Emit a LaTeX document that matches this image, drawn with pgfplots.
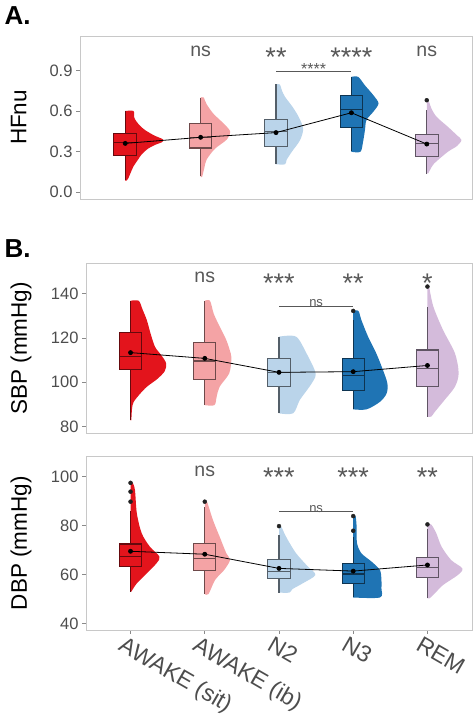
\documentclass[border=0pt]{standalone}
\usepackage{fontspec}
\setmainfont{Liberation Sans}
\usepackage{pgfplots}
\pgfplotsset{compat=1.18}
\definecolor{cA}{HTML}{E3141C}
\definecolor{cB}{HTML}{F4A3A5}
\definecolor{cC}{HTML}{BAD4EA}
\definecolor{cD}{HTML}{1F74B4}
\definecolor{cE}{HTML}{D4BBDB}
\definecolor{gframe}{HTML}{C8C8C8}
\definecolor{gtick}{HTML}{8A8A8A}
\definecolor{tickgray}{HTML}{4D4D4D}
\definecolor{siggray}{HTML}{585858}
\definecolor{ptgray}{HTML}{222222}
\pgfplotsset{
  rain/.style={scale only axis, xmin=0.4, xmax=5.6, clip=false,
    axis line style={draw=gframe, line width=0.9pt},
    tick style={draw=gtick, line width=0.8pt},
    major tick length=4pt, tick align=outside,
    ytick pos=left, xtick pos=left,
    /pgf/number format/assume math mode=true,
    yticklabel style={font=\fontsize{16.5}{17}\selectfont, text=tickgray},
    ylabel style={font=\fontsize{22.5}{24}\selectfont, anchor=center},
  },
  vio/.style={draw=none, fill=#1, smooth, tension=0.5},
  bx/.style={draw=#1!45!black, fill=#1, line width=1.1pt},
  bxw/.style={draw=#1!45!black, line width=1.1pt},
  meanline/.style={black, line width=0.8pt, mark=*, mark size=2pt, mark options={fill=black}},
  outl/.style={only marks, mark=*, mark size=2pt, color=ptgray},
}
\tikzset{
  sig/.style={text=siggray, anchor=base, font=\fontsize{19.5}{20}\selectfont},
  sigst/.style={text=siggray, anchor=base, font=\fontsize{27}{28}\selectfont, yshift=-10pt},
  sigs/.style={text=siggray, anchor=base, font=\fontsize{13}{14}\selectfont},
  sigss/.style={text=siggray, anchor=base, font=\fontsize{16}{17}\selectfont},
}
% #1 colour, #2 left, #3 centre, #4 right, #5 lower whisker, #6 lower quartile, #7 median, #8 upper quartile, #9 upper whisker
\newcommand{\bxp}[9]{%
\addplot[bxw=#1] coordinates {(#3,#5) (#3,#6)};
\addplot[bxw=#1] coordinates {(#3,#8) (#3,#9)};
\addplot[bx=#1] coordinates {(#2,#6) (#4,#6) (#4,#8) (#2,#8)} -- cycle;
\addplot[bxw=#1] coordinates {(#2,#7) (#4,#7)};
}
\begin{document}
\begin{tikzpicture}
\path[use as bounding box] (0,0) rectangle (475pt,719pt);
\node[anchor=base west, font=\fontsize{26}{28}\selectfont\bfseries] at (1pt,694pt) {A.};
\node[anchor=base west, font=\fontsize{26}{28}\selectfont\bfseries] at (1pt,461.3pt) {B.};
% ---------------- Panel A
\begin{axis}[rain, at={(80pt,520pt)}, anchor=south west, width=392pt, height=163pt,
  ymin=-0.052, ymax=1.156, ytick={0,0.3,0.6,0.9}, yticklabels={0.0,0.3,0.6,0.9},
  xtick=\empty, ylabel={HFnu}, ylabel style={at={(axis description cs:-0.156,0.5)}}]
\addplot[vio=cA] coordinates {(1,0.60) (1.11,0.60) (1.12,0.55) (1.18,0.50) (1.26,0.46) (1.38,0.42) (1.50,0.39) (1.49,0.37) (1.40,0.35) (1.30,0.32) (1.22,0.28) (1.17,0.24) (1.11,0.19) (1.07,0.14) (1.04,0.10) (1.02,0.085) (1,0.085)} -- cycle;
\addplot[vio=cB] coordinates {(2,0.70) (2.04,0.70) (2.08,0.65) (2.17,0.58) (2.30,0.51) (2.39,0.45) (2.35,0.39) (2.19,0.32) (2.08,0.24) (2.05,0.18) (2.02,0.113) (2,0.113)} -- cycle;
\addplot[vio=cC] coordinates {(3,0.797) (3.05,0.797) (3.08,0.75) (3.12,0.705) (3.22,0.63) (3.30,0.557) (3.36,0.47) (3.32,0.385) (3.21,0.298) (3.14,0.237) (3.12,0.205) (3,0.205)} -- cycle;
\addplot[vio=cD] coordinates {(4,0.853) (4.09,0.853) (4.18,0.79) (4.29,0.718) (4.36,0.656) (4.29,0.594) (4.20,0.533) (4.18,0.459) (4.155,0.372) (4.12,0.298) (4,0.298)} -- cycle;
\addplot[vio=cE] coordinates {(5,0.668) (5.03,0.668) (5.06,0.62) (5.13,0.557) (5.28,0.483) (5.40,0.42) (5.46,0.385) (5.40,0.34) (5.28,0.298) (5.10,0.212) (5.04,0.16) (5.02,0.138) (5,0.138)} -- cycle;
\bxp{cA}{0.85}{1}{1.15}{0.09}{0.272}{0.365}{0.434}{0.60}
\bxp{cB}{1.85}{2}{2.15}{0.12}{0.326}{0.405}{0.508}{0.70}
\bxp{cC}{2.85}{3}{3.15}{0.205}{0.340}{0.446}{0.538}{0.797}
\bxp{cD}{3.85}{4}{4.15}{0.30}{0.479}{0.612}{0.718}{0.85}
\bxp{cE}{4.85}{5}{5.15}{0.133}{0.266}{0.36}{0.424}{0.61}
\addplot[outl] coordinates {(5,0.68)};
\addplot[meanline] coordinates {(1,0.36) (2,0.405) (3,0.44) (4,0.587) (5,0.355)};
\addplot[siggray, line width=0.8pt] coordinates {(3,0.895) (4,0.895)};
\node[sigss] at (axis cs:3.5,0.869) {****};
\node[sig] at (axis cs:2,1.006) {ns};
\node[sigst] at (axis cs:3,1.006) {**};
\node[sigst] at (axis cs:4,1.006) {****};
\node[sig] at (axis cs:5,1.006) {ns};
\end{axis}
% ---------------- Panel B
\begin{axis}[rain, at={(86pt,285.7pt)}, anchor=south west, width=386pt, height=170pt,
  ymin=77, ymax=153.7, ytick={80,100,120,140}, yticklabels={80,100,120,140},
  xtick=\empty, ylabel={SBP (mmHg)}, ylabel style={at={(axis description cs:-0.168,0.5)}}]
\addplot[vio=cA] coordinates {(1,136.8) (1.11,136.8) (1.16,133) (1.22,128) (1.27,122) (1.33,116) (1.42,112) (1.48,108.5) (1.46,105) (1.36,101.5) (1.22,98) (1.12,94.5) (1.04,91) (1.02,88) (1.01,83) (1,83)} -- cycle;
\addplot[vio=cB] coordinates {(2,136.8) (2.07,136.8) (2.12,131) (2.18,126.6) (2.29,119.1) (2.35,113) (2.36,111) (2.33,104.1) (2.20,98) (2.16,93.5) (2.13,89.7) (2,89.7)} -- cycle;
\addplot[vio=cC] coordinates {(3,120.6) (3.23,120.6) (3.37,113.1) (3.48,105.6) (3.49,102.5) (3.41,98) (3.28,92) (3.19,86) (3,86)} -- cycle;
\addplot[vio=cD] coordinates {(4,132.2) (4.07,132.2) (4.11,128.1) (4.20,120.6) (4.31,113.1) (4.40,105.6) (4.46,99.5) (4.45,95) (4.36,91.2) (4.18,87.8) (4,87.8)} -- cycle;
\addplot[vio=cE] coordinates {(5,143.2) (5.02,143.2) (5.08,134.1) (5.21,123.6) (5.37,113.1) (5.42,104.1) (5.37,98) (5.23,92) (5.10,86.7) (5.05,84.5) (5,84.5)} -- cycle;
\bxp{cA}{0.85}{1}{1.15}{83}{105.9}{111.6}{122.4}{136.8}
\bxp{cB}{1.85}{2}{2.15}{89.7}{101.3}{109.6}{117.9}{136.8}
\bxp{cC}{2.85}{3}{3.15}{86}{98}{104.5}{110.8}{120.6}
\bxp{cD}{3.85}{4}{4.15}{87.8}{96.5}{102.9}{110.8}{128}
\bxp{cE}{4.85}{5}{5.15}{84.5}{98}{106.1}{114.6}{134.1}
\addplot[outl] coordinates {(4,132.2) (5,143.2)};
\addplot[meanline] coordinates {(1,113.4) (2,110.8) (3,104.5) (4,104.8) (5,107.6)};
\addplot[siggray, line width=0.8pt] coordinates {(3,134.4) (4,134.4)};
\node[sigs] at (axis cs:3.5,134.0) {ns};
\node[sig] at (axis cs:2,145.1) {ns};
\node[sigst] at (axis cs:3,145.1) {***};
\node[sigst] at (axis cs:4,145.1) {**};
\node[sigst] at (axis cs:5,145.1) {*};
\end{axis}
% ---------------- Panel C
\begin{axis}[rain, at={(86pt,89pt)}, anchor=south west, width=386pt, height=173.3pt,
  ymin=37.3, ymax=108.2, ytick={40,60,80,100}, yticklabels={40,60,80,100},
  xtick={1,2,3,4,5}, xticklabels={AWAKE (sit),AWAKE (ib),N2,N3,REM},
  xticklabel style={rotate=-30, anchor=north west, xshift=-7pt, font=\fontsize{23}{24}\selectfont, text=tickgray},
  ylabel={DBP (mmHg)}, ylabel style={at={(axis description cs:-0.168,0.5)}}]
\addplot[vio=cA] coordinates {(1,97.5) (1.03,97.5) (1.06,94.4) (1.085,85) (1.15,76.9) (1.26,71.4) (1.39,67.3) (1.35,64.6) (1.22,60.5) (1.085,56.4) (1.01,53) (1,53)} -- cycle;
\addplot[vio=cB] coordinates {(2,89.8) (2.03,89.8) (2.11,82.3) (2.20,75.5) (2.29,68.7) (2.34,65.9) (2.26,61.8) (2.14,57.8) (2.05,52) (2,52)} -- cycle;
\addplot[vio=cC] coordinates {(3,79.6) (3.03,79.6) (3.07,77) (3.12,74.1) (3.23,68.7) (3.39,63.2) (3.49,59.8) (3.32,56.4) (3.18,54) (3.14,52.6) (3,52.6)} -- cycle;
\addplot[vio=cD] coordinates {(4,84) (4.03,84) (4.045,80) (4.05,73) (4.11,68.7) (4.25,65.2) (4.36,61.8) (4.38,57.8) (4.38,54.4) (4.36,50.6) (4,50.6)} -- cycle;
\addplot[vio=cE] coordinates {(5,80.5) (5.05,80.5) (5.12,76.8) (5.19,71.4) (5.32,65.9) (5.47,62.5) (5.41,59.8) (5.21,55.7) (5.10,52.3) (5.03,50.3) (5,50.3)} -- cycle;
\bxp{cA}{0.85}{1}{1.15}{53}{63.2}{67.3}{72.5}{86}
\bxp{cB}{1.85}{2}{2.15}{52}{61.8}{66.6}{72.8}{87.7}
\bxp{cC}{2.85}{3}{3.15}{52.6}{58.4}{61.2}{66.3}{76.2}
\bxp{cD}{3.85}{4}{4.15}{50.6}{56.4}{60.2}{64.6}{75.5}
\bxp{cE}{4.85}{5}{5.15}{50.3}{58.8}{62.8}{67}{78.5}
\addplot[outl] coordinates {(1,89.8) (1,93.9) (1,97.5) (2,89.8) (3,79.8) (4,83.9) (4,77.9) (5,80.5)};
\addplot[meanline] coordinates {(1,69.5) (2,68.3) (3,62.5) (4,61.4) (5,63.9)};
\addplot[siggray, line width=0.8pt] coordinates {(3,85.7) (4,85.7)};
\node[sigs] at (axis cs:3.5,85.2) {ns};
\node[sig] at (axis cs:2,100) {ns};
\node[sigst] at (axis cs:3,100) {***};
\node[sigst] at (axis cs:4,100) {***};
\node[sigst] at (axis cs:5,100) {**};
\end{axis}
\end{tikzpicture}
\end{document}
